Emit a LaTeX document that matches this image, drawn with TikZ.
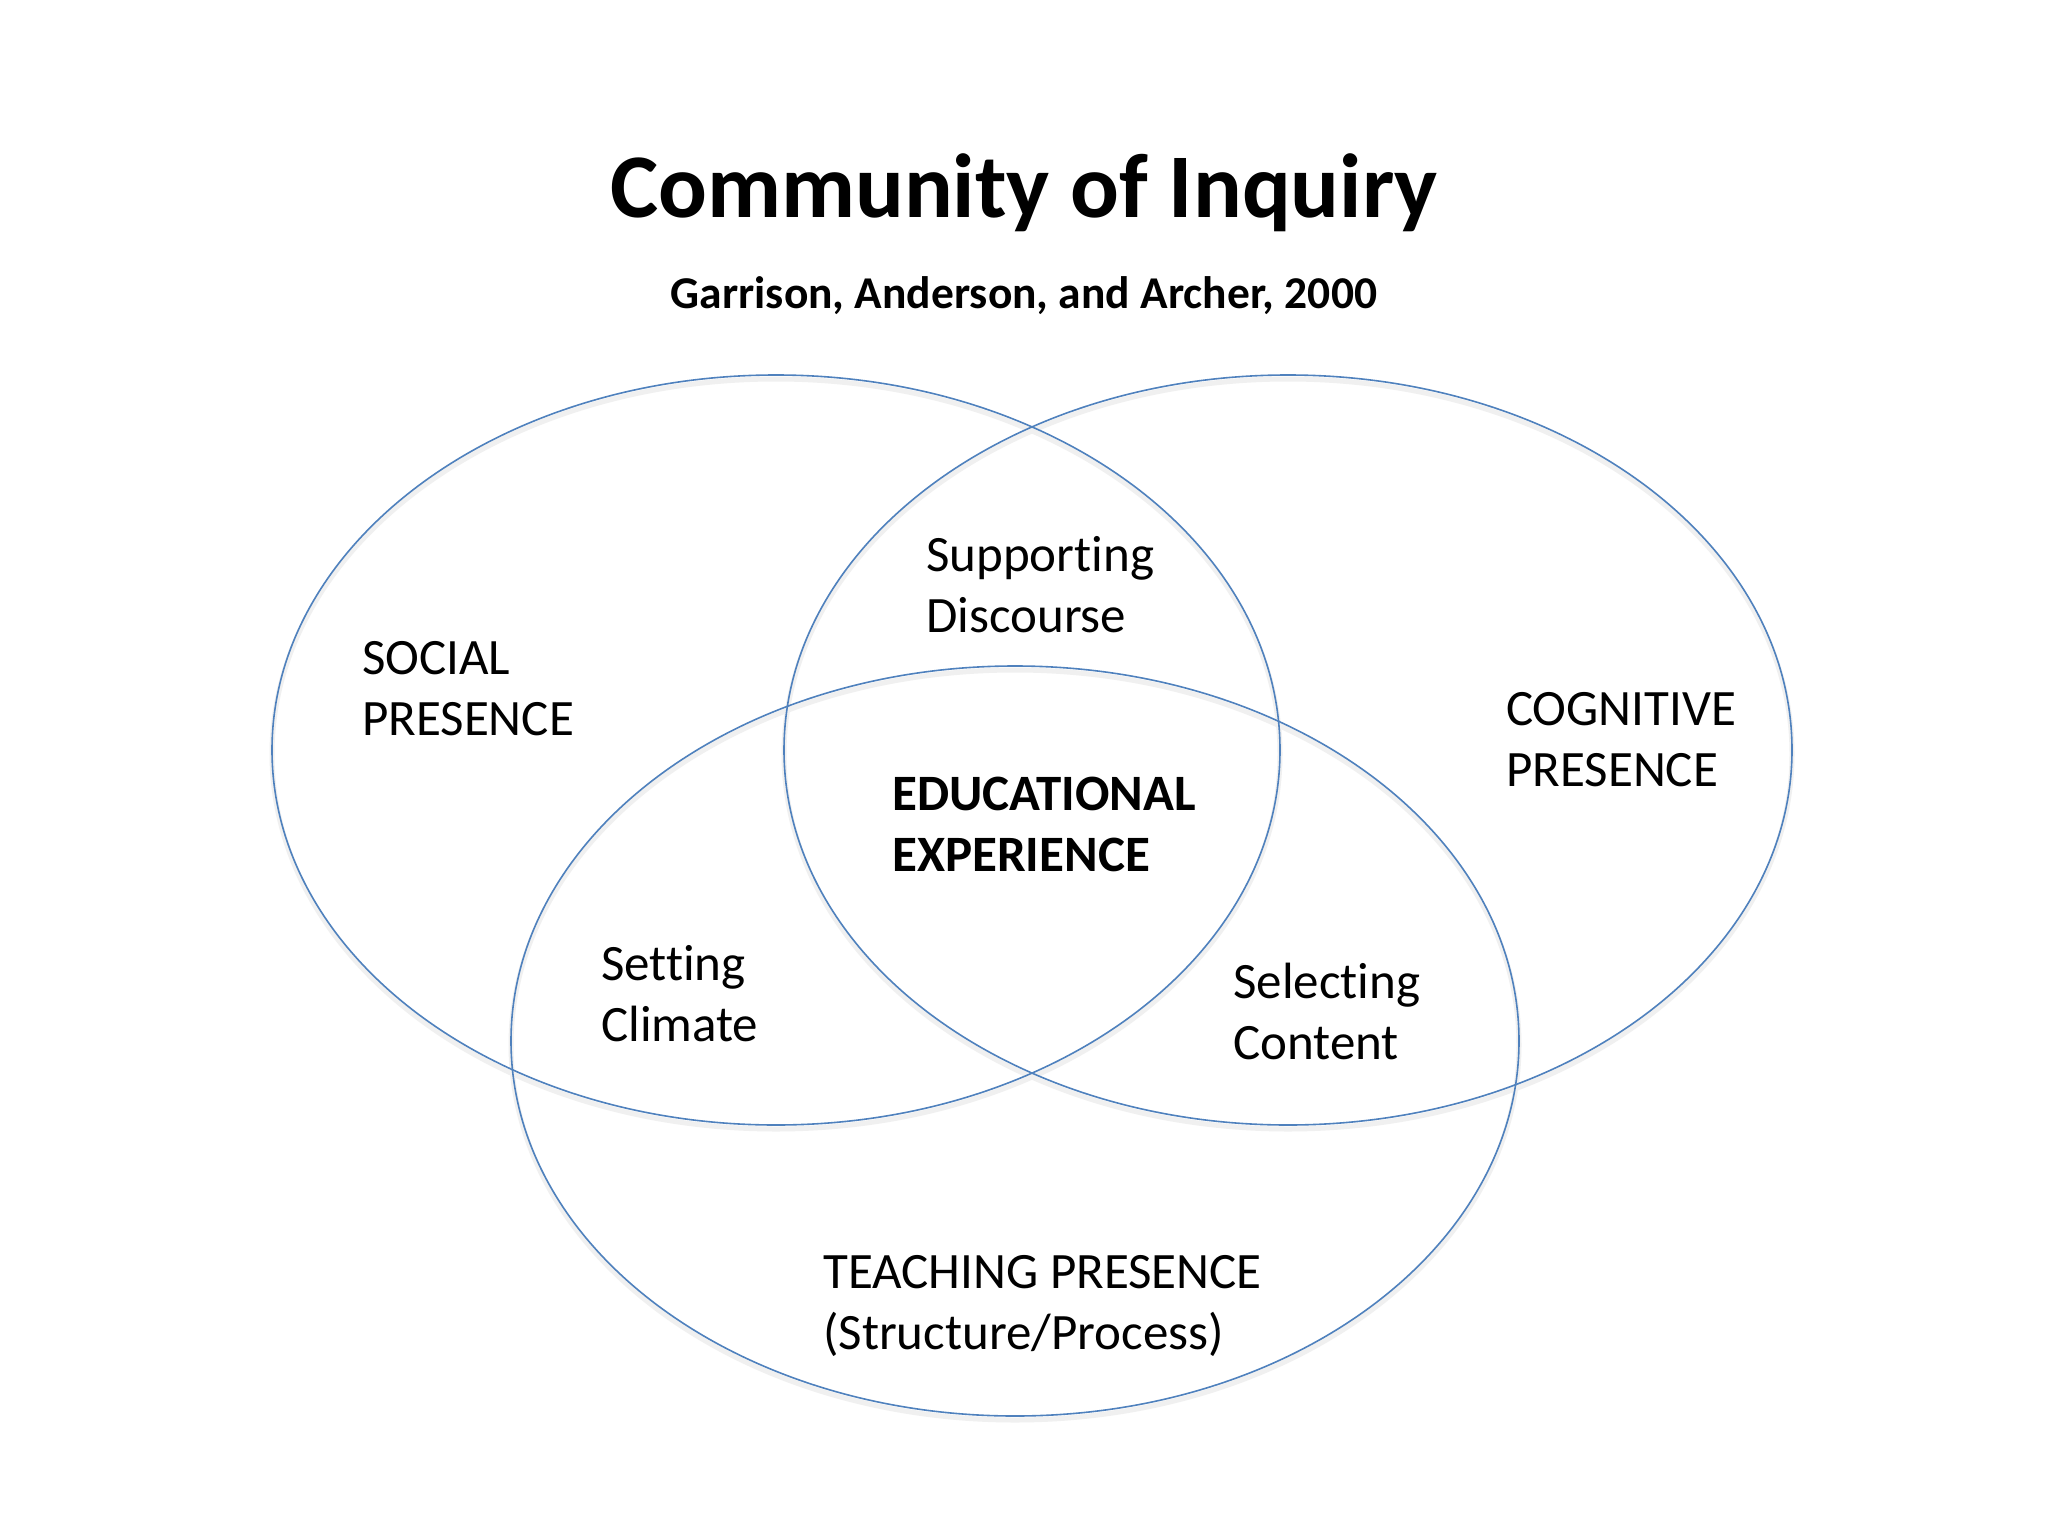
\documentclass[tikz,border=0pt]{standalone}
\usepackage{fontspec}
\setmainfont{Carlito}[Ligatures=NoCommon]
\definecolor{ringblue}{RGB}{79,129,189}
\begin{document}
\begin{tikzpicture}[x=1pt,y=-1pt,
  ring/.style={draw=ringblue,line width=1.6pt},
  shade/.style={draw=black!6,line width=5pt},
  lbl/.style={anchor=base west,align=left,inner sep=0pt,font=\fontsize{51}{61}\selectfont},
  blbl/.style={lbl,font=\fontsize{51}{61}\selectfont\bfseries}]
\useasboundingbox[fill=white] (0,0) rectangle (2048,1536);
% soft shadows
\draw[shade] (776,754) ellipse [x radius=504, y radius=375];
\draw[shade] (1288,754) ellipse [x radius=504, y radius=375];
\draw[shade] (1015,1045) ellipse [x radius=504, y radius=375];
% rings
\draw[ring] (776,750) ellipse [x radius=504, y radius=375];
\draw[ring] (1288,750) ellipse [x radius=504, y radius=375];
\draw[ring] (1015,1041) ellipse [x radius=504, y radius=375];
% titles
\node[anchor=base,inner sep=0pt,font=\fontsize{91}{110}\selectfont\bfseries] (title) at (1024,217) {Community of Inquiry};
\node[anchor=base,inner sep=0pt,font=\fontsize{45.5}{54}\selectfont\bfseries] (sub) at (1024,308) {Garrison, Anderson, and Archer, 2000};
% labels (anchor = baseline of last line)
\node[lbl] (social) at (362,735) {SOCIAL\\PRESENCE};
\node[lbl] (support) at (926,632) {Supporting\\Discourse};
\node[lbl] (cog) at (1506,786) {COGNITIVE\\PRESENCE};
\node[blbl] (edu) at (892,871) {EDUCATIONAL\\EXPERIENCE};
\node[lbl] (climate) at (601,1041) {Setting\\Climate};
\node[lbl] (content) at (1233,1059) {Selecting\\Content};
\node[lbl] (teach) at (823,1349) {TEACHING PRESENCE\\(Structure/Process)};
\end{tikzpicture}
\end{document}
